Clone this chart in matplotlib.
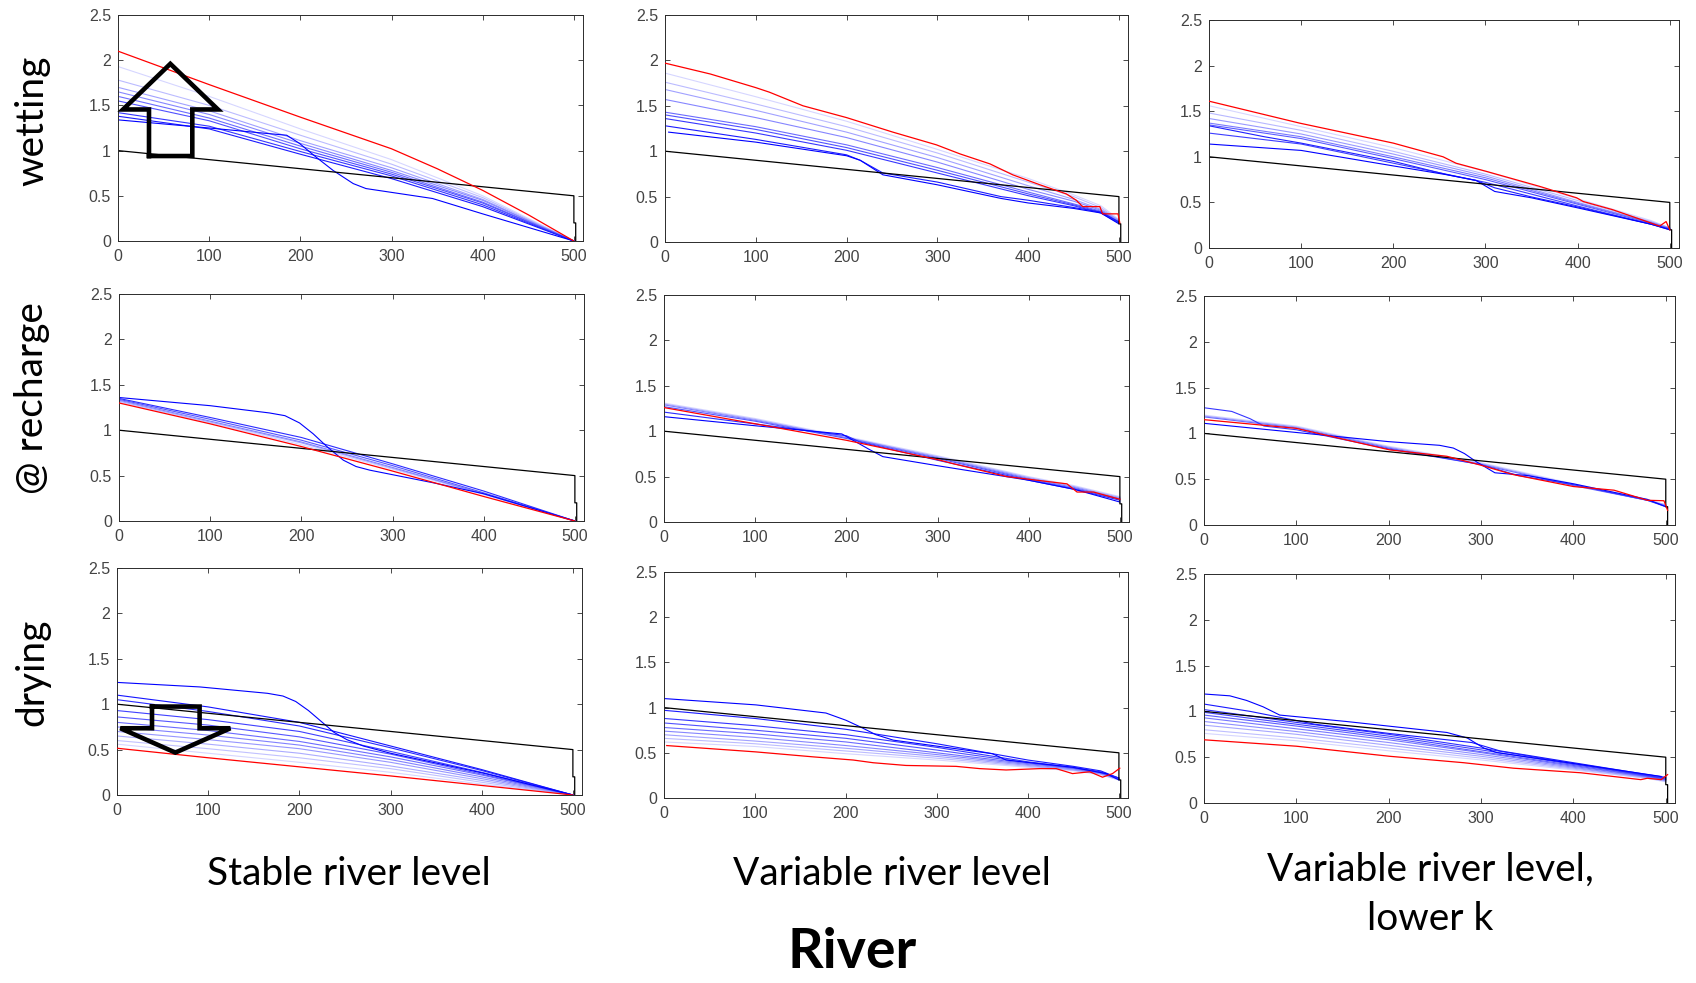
import matplotlib
matplotlib.use("Agg")
import matplotlib.pyplot as plt

# ---- data ----
bed_x = [0, 500, 500, 502, 502]
bed_y = [1.0, 0.5, 0.2, 0.2, 0.0]

# panel A : stable river, wetting
A_red_x = [0, 100, 200, 300, 350, 400, 450, 500]
A_red_y = [2.10, 1.73, 1.37, 1.02, 0.80, 0.56, 0.29, 0.0]
A_x = [0, 100, 200, 300, 400, 500]
A_blue_y = [
    [1.93, 1.60, 1.24, 0.90, 0.50, 0.0],
    [1.78, 1.50, 1.17, 0.85, 0.48, 0.0],
    [1.70, 1.44, 1.11, 0.81, 0.46, 0.0],
    [1.65, 1.40, 1.08, 0.78, 0.45, 0.0],
    [1.60, 1.36, 1.05, 0.76, 0.43, 0.0],
    [1.55, 1.33, 1.02, 0.74, 0.42, 0.0],
    [1.42, 1.27, 0.99, 0.72, 0.40, 0.0],
    [1.38, 1.24, 0.96, 0.69, 0.38, 0.0],
]
A_front_x = [0, 100, 163, 185, 199, 217, 236, 258, 272, 345, 400, 500]
A_front_y = [1.34, 1.25, 1.19, 1.17, 1.08, 0.93, 0.78, 0.635, 0.58, 0.47, 0.30, 0.0]

# panel B : variable river, wetting
B_red_x = [0, 50, 100, 115, 152, 200, 251, 299, 325, 358, 383, 413, 442, 453, 460, 479, 482, 499, 501]
B_red_y = [1.97, 1.85, 1.70, 1.65, 1.50, 1.37, 1.21, 1.07, 0.97, 0.86, 0.74, 0.63, 0.53, 0.46, 0.39, 0.39, 0.31, 0.31, 0.21]
B_x = [0, 100, 200, 300, 400, 450, 480, 500]
B_blue_y = [
    [1.86, 1.60, 1.33, 1.02, 0.70, 0.52, 0.40, 0.25],
    [1.76, 1.52, 1.27, 0.98, 0.66, 0.50, 0.38, 0.24],
    [1.68, 1.45, 1.21, 0.93, 0.62, 0.47, 0.36, 0.24],
    [1.57, 1.37, 1.15, 0.88, 0.58, 0.45, 0.35, 0.23],
    [1.43, 1.27, 1.07, 0.82, 0.55, 0.42, 0.34, 0.22],
    [1.40, 1.24, 1.04, 0.79, 0.53, 0.41, 0.33, 0.22],
    [1.36, 1.20, 1.01, 0.76, 0.51, 0.40, 0.32, 0.21],
]
B_front_x = [0, 100, 200, 215, 240, 300, 370, 400, 450, 480, 500]
B_front_y = [1.28, 1.13, 0.96, 0.90, 0.76, 0.66, 0.50, 0.46, 0.38, 0.33, 0.22]
B_front2_x = [4, 100, 200, 215, 240, 300, 370, 400, 450, 480, 500]
B_front2_y = [1.21, 1.10, 0.95, 0.90, 0.74, 0.63, 0.48, 0.43, 0.37, 0.32, 0.20]

# panel C : variable river, lower k, wetting
C_red_x = [0, 98, 200, 254, 268, 301, 359, 399, 406, 438, 475, 489, 496, 500]
C_red_y = [1.61, 1.37, 1.15, 1.00, 0.93, 0.84, 0.675, 0.55, 0.51, 0.42, 0.29, 0.24, 0.29, 0.20]
C_x = [0, 100, 200, 300, 400, 480, 500]
C_blue_y = [
    [1.56, 1.33, 1.10, 0.84, 0.54, 0.30, 0.22],
    [1.48, 1.29, 1.06, 0.81, 0.52, 0.29, 0.22],
    [1.42, 1.25, 1.03, 0.79, 0.50, 0.28, 0.22],
    [1.37, 1.22, 1.00, 0.77, 0.49, 0.28, 0.21],
    [1.35, 1.20, 0.98, 0.75, 0.48, 0.27, 0.21],
    [1.26, 1.14, 0.93, 0.72, 0.46, 0.26, 0.21],
]
C_front_x = [0, 60, 100, 200, 260, 290, 310, 350, 400, 480, 500]
C_front_y = [1.34, 1.22, 1.15, 0.95, 0.80, 0.74, 0.66, 0.56, 0.45, 0.26, 0.20]
C_front2_x = [0, 100, 200, 260, 290, 310, 350, 400, 480, 500]
C_front2_y = [1.14, 1.07, 0.90, 0.80, 0.74, 0.62, 0.55, 0.44, 0.26, 0.20]

# panel D : stable river, recharge
D_red_x = [0, 100, 200, 300, 400, 500]
D_red_y = [1.30, 1.07, 0.82, 0.55, 0.27, 0.0]
D_x = [0, 100, 200, 300, 400, 500]
D_blue_y = [
    [1.31, 1.08, 0.84, 0.57, 0.29, 0.0],
    [1.32, 1.09, 0.86, 0.58, 0.30, 0.0],
    [1.33, 1.10, 0.87, 0.59, 0.30, 0.0],
    [1.34, 1.12, 0.89, 0.61, 0.31, 0.0],
    [1.35, 1.14, 0.92, 0.63, 0.33, 0.0],
]
D_front_x = [0, 100, 165, 182, 198, 213, 228, 246, 260, 275, 345, 400, 500]
D_front_y = [1.36, 1.27, 1.19, 1.16, 1.08, 0.96, 0.82, 0.67, 0.60, 0.56, 0.42, 0.30, 0.0]

# panel E : variable river, recharge
E_red_x = [0, 101, 200, 252, 303, 318, 376, 442, 453, 471, 500]
E_red_y = [1.26, 1.08, 0.90, 0.79, 0.68, 0.64, 0.50, 0.42, 0.33, 0.33, 0.25]
E_x = [0, 100, 200, 300, 400, 450, 500]
E_blue_y = [
    [1.31, 1.14, 0.94, 0.73, 0.50, 0.40, 0.28],
    [1.30, 1.13, 0.93, 0.72, 0.49, 0.39, 0.27],
    [1.29, 1.12, 0.93, 0.71, 0.48, 0.38, 0.26],
    [1.27, 1.11, 0.92, 0.70, 0.47, 0.37, 0.25],
]
E_front_x = [0, 100, 200, 215, 300, 400, 450, 500]
E_front_y = [1.21, 1.08, 0.95, 0.88, 0.68, 0.46, 0.36, 0.24]
E_front2_x = [0, 100, 195, 225, 240, 300, 400, 450, 500]
E_front2_y = [1.16, 1.06, 0.97, 0.80, 0.72, 0.62, 0.46, 0.36, 0.22]

# panel F : variable river, lower k, recharge
F_red_x = [0, 100, 201, 263, 299, 335, 400, 444, 480, 498, 502]
F_red_y = [1.15, 1.055, 0.82, 0.75, 0.655, 0.55, 0.42, 0.38, 0.27, 0.265, 0.16]
F_x = [0, 100, 200, 300, 400, 480, 500]
F_blue_y = [
    [1.20, 1.08, 0.86, 0.68, 0.45, 0.28, 0.22],
    [1.19, 1.07, 0.85, 0.67, 0.44, 0.27, 0.22],
    [1.18, 1.06, 0.84, 0.66, 0.43, 0.27, 0.21],
]
F_front_x = [0, 30, 50, 65, 100, 200, 300, 340, 400, 480, 500]
F_front_y = [1.28, 1.24, 1.16, 1.08, 1.04, 0.83, 0.66, 0.54, 0.44, 0.27, 0.20]
F_front2_x = [0, 100, 200, 255, 270, 282, 295, 315, 350, 400, 480, 500]
F_front2_y = [1.11, 1.01, 0.91, 0.87, 0.84, 0.78, 0.69, 0.57, 0.54, 0.45, 0.28, 0.20]

# panel G : stable river, drying
G_red_x = [0, 100, 200, 300, 400, 500]
G_red_y = [0.515, 0.41, 0.31, 0.21, 0.105, 0.0]
G_x = [0, 100, 200, 300, 400, 500]
G_blue_y = [
    [0.56, 0.46, 0.36, 0.25, 0.12, 0.0],
    [0.60, 0.51, 0.41, 0.29, 0.14, 0.0],
    [0.65, 0.56, 0.46, 0.32, 0.16, 0.0],
    [0.70, 0.61, 0.51, 0.36, 0.18, 0.0],
    [0.75, 0.66, 0.55, 0.39, 0.20, 0.0],
    [0.80, 0.71, 0.59, 0.42, 0.22, 0.0],
    [0.86, 0.77, 0.64, 0.45, 0.23, 0.0],
    [0.93, 0.83, 0.70, 0.48, 0.25, 0.0],
    [1.05, 0.92, 0.76, 0.52, 0.27, 0.0],
    [1.10, 0.97, 0.80, 0.54, 0.28, 0.0],
]
G_front_x = [0, 91, 165, 182, 196, 210, 224, 238, 252, 270, 300, 402, 500]
G_front_y = [1.24, 1.19, 1.12, 1.09, 1.03, 0.93, 0.81, 0.69, 0.61, 0.54, 0.46, 0.24, 0.0]

# panel H : variable river, drying
H_red_x = [3, 101, 164, 208, 230, 266, 321, 347, 376, 413, 431, 449, 468, 482, 493, 501]
H_red_y = [0.58, 0.51, 0.455, 0.42, 0.39, 0.36, 0.35, 0.325, 0.31, 0.325, 0.325, 0.27, 0.29, 0.23, 0.27, 0.33]
H_x = [0, 100, 200, 300, 400, 450, 480, 500]
H_blue_y = [
    [0.62, 0.57, 0.49, 0.42, 0.34, 0.30, 0.26, 0.20],
    [0.66, 0.60, 0.52, 0.44, 0.35, 0.31, 0.26, 0.20],
    [0.70, 0.63, 0.55, 0.46, 0.36, 0.31, 0.27, 0.21],
    [0.74, 0.67, 0.58, 0.48, 0.37, 0.32, 0.27, 0.21],
    [0.78, 0.71, 0.62, 0.50, 0.38, 0.33, 0.28, 0.21],
    [0.83, 0.75, 0.66, 0.53, 0.39, 0.33, 0.28, 0.22],
    [0.88, 0.80, 0.70, 0.56, 0.40, 0.34, 0.29, 0.22],
    [0.97, 0.88, 0.76, 0.60, 0.42, 0.35, 0.30, 0.22],
]
H_front_x = [0, 101, 178, 200, 215, 233, 252, 361, 376, 449, 486, 500]
H_front_y = [1.10, 1.03, 0.94, 0.86, 0.79, 0.70, 0.64, 0.49, 0.42, 0.34, 0.27, 0.20]

# panel I : variable river, lower k, drying
I_red_x = [0, 100, 201, 281, 335, 408, 473, 480, 495, 502]
I_red_y = [0.69, 0.62, 0.51, 0.44, 0.38, 0.33, 0.255, 0.27, 0.255, 0.31]
I_x = [0, 100, 200, 300, 400, 480, 500]
I_blue_y = [
    [0.76, 0.68, 0.57, 0.47, 0.36, 0.27, 0.23],
    [0.80, 0.71, 0.60, 0.49, 0.37, 0.27, 0.24],
    [0.85, 0.75, 0.63, 0.51, 0.38, 0.28, 0.24],
    [0.89, 0.78, 0.66, 0.53, 0.39, 0.28, 0.25],
    [0.93, 0.81, 0.69, 0.55, 0.40, 0.29, 0.25],
    [0.96, 0.84, 0.71, 0.56, 0.41, 0.29, 0.26],
    [0.99, 0.86, 0.73, 0.58, 0.42, 0.30, 0.26],
    [1.02, 0.88, 0.75, 0.60, 0.43, 0.30, 0.27],
]
I_front_x = [0, 50, 120, 200, 290, 320, 400, 480, 500]
I_front_y = [1.08, 1.00, 0.86, 0.76, 0.66, 0.57, 0.44, 0.31, 0.28]
I_front2_x = [0, 28, 46, 64, 82, 154, 263, 285, 303, 317, 408, 495]
I_front2_y = [1.19, 1.17, 1.12, 1.05, 0.96, 0.89, 0.77, 0.71, 0.60, 0.55, 0.42, 0.29]

row_labels = ["wetting", "@ recharge", "drying"]
col_labels = ["Stable river level", "Variable river level", "Variable river level,\nlower k"]
x_ticks = [0, 100, 200, 300, 400, 500]
y_ticks = [0, 0.5, 1, 1.5, 2, 2.5]
y_ticklabels = ["0", "0.5", "1", "1.5", "2", "2.5"]

# panel layout in pixels (left, top, right, bottom) measured on the 1696x983 picture
W, H = 1696, 983
boxes = [
    [(118, 15, 583, 241), (665, 15, 1128, 242), (1209, 20, 1679, 248)],
    [(119, 294, 584, 521), (664, 295, 1129, 522), (1204, 296, 1675, 525)],
    [(117, 568, 582, 795), (664, 572, 1128, 798), (1204, 574, 1675, 803)],
]

panels = [
    [(A_red_x, A_red_y, A_x, A_blue_y, [(A_front_x, A_front_y)]),
     (B_red_x, B_red_y, B_x, B_blue_y, [(B_front_x, B_front_y), (B_front2_x, B_front2_y)]),
     (C_red_x, C_red_y, C_x, C_blue_y, [(C_front_x, C_front_y), (C_front2_x, C_front2_y)])],
    [(D_red_x, D_red_y, D_x, D_blue_y, [(D_front_x, D_front_y)]),
     (E_red_x, E_red_y, E_x, E_blue_y, [(E_front_x, E_front_y), (E_front2_x, E_front2_y)]),
     (F_red_x, F_red_y, F_x, F_blue_y, [(F_front_x, F_front_y), (F_front2_x, F_front2_y)])],
    [(G_red_x, G_red_y, G_x, G_blue_y, [(G_front_x, G_front_y)]),
     (H_red_x, H_red_y, H_x, H_blue_y, [(H_front_x, H_front_y)]),
     (I_red_x, I_red_y, I_x, I_blue_y, [(I_front_x, I_front_y), (I_front2_x, I_front2_y)])],
]

fig = plt.figure(figsize=(W / 100, H / 100), dpi=100)
axc = '#2b2b2b'

axes = {}
for r in range(3):
    for c in range(3):
        l, t, rr, b = boxes[r][c]
        ax = fig.add_axes([l / W, 1 - b / H, (rr - l) / W, (b - t) / H])
        axes[(r, c)] = ax
        red_x, red_y, bx, blue_y, fronts = panels[r][c]
        # time steps: late ones pale, early ones (the fronts) full blue on top
        allb = [(bx, y) for y in blue_y] + fronts
        n = len(allb)
        for k, (xs, ys) in enumerate(allb):
            f = 1 - k / max(n - 1, 1)
            col = (0.84 * f, 0.84 * f, 1.0)
            ax.plot(xs, ys, color=col, lw=0.8, zorder=2 + k * 0.01)
        ax.plot(bed_x, bed_y, color='k', lw=0.9, zorder=2.5)
        ax.plot(red_x, red_y, color='red', lw=0.9, zorder=3)

        ax.set_xlim(0, 510)
        ax.set_ylim(0, 2.5)
        ax.set_xticks(x_ticks)
        ax.set_yticks(y_ticks)
        ax.set_yticklabels(y_ticklabels)
        ax.tick_params(direction='in', length=3.5, width=0.6, top=True, right=True,
                       colors=axc, labelsize=11.5)
        ax.tick_params(axis='x', pad=6)
        ax.tick_params(axis='y', pad=5)
        for lab in ax.get_xticklabels() + ax.get_yticklabels():
            lab.set_family('Liberation Sans')
            lab.set_color('#444444')
        for s in ax.spines.values():
            s.set_color(axc)
            s.set_linewidth(0.7)

# hollow arrows drawn in data units of their panels
up_x = [34, 34, 5.5, 57.4, 109.6, 81.5, 81.5, 34]
up_y = [0.94, 1.455, 1.455, 1.96, 1.455, 1.455, 0.94, 0.94]
axes[(0, 0)].plot(up_x, up_y, color='k', lw=3.3, solid_joinstyle='miter', zorder=5, clip_on=False)
dn_x = [38.4, 38.4, 3.7, 64.0, 124.3, 90.6, 90.6, 38.4]
dn_y = [0.974, 0.735, 0.735, 0.467, 0.735, 0.735, 0.974, 0.974]
axes[(2, 0)].plot(dn_x, dn_y, color='k', lw=3.3, solid_joinstyle='miter', zorder=5, clip_on=False)

# labels
font = ['Lato', 'DejaVu Sans']
row_y = [121, 398, 672]
for lab, yy in zip(row_labels, row_y):
    fig.text(32 / W, 1 - yy / H, lab, rotation=90, ha='center', va='center',
             fontsize=28, family=font)
col_x = [349, 892, 1430]
col_y = [874, 874, 894]
for lab, xx, yy in zip(col_labels, col_x, col_y):
    fig.text(xx / W, 1 - yy / H, lab, ha='center', va='center', fontsize=28,
             family=font, linespacing=1.45)
fig.text(852 / W, 1 - 952 / H, "River", ha='center', va='center', fontsize=40,
         fontweight='bold', family=font)

fig.savefig("out.png", dpi=100)
